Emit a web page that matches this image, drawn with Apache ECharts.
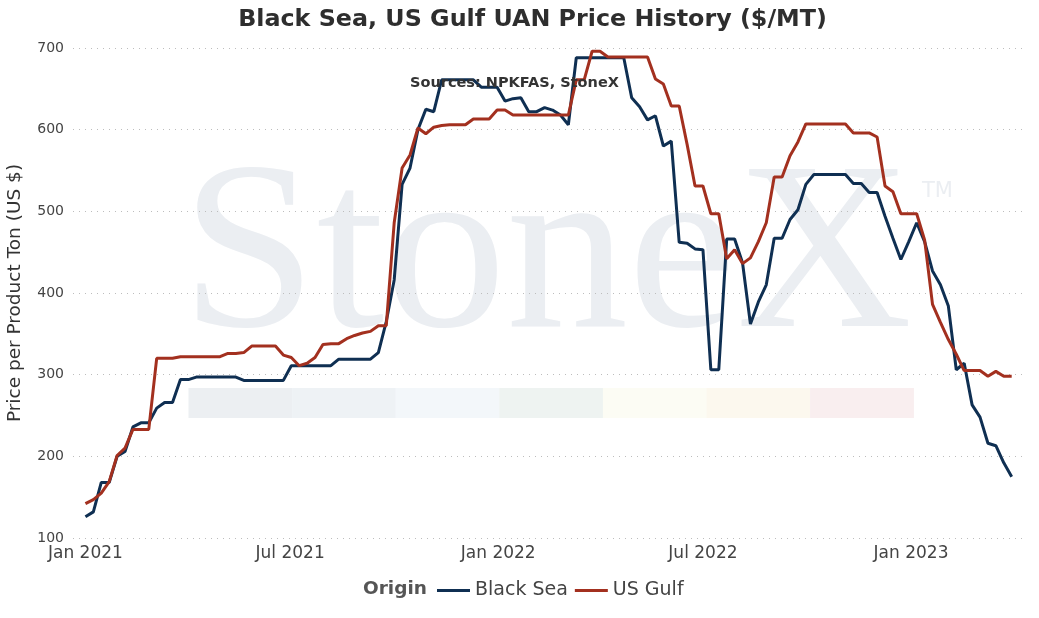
<!DOCTYPE html>
<html>
<head>
<meta charset="utf-8">
<title>Black Sea, US Gulf UAN Price History</title>
<script src="https://cdn.jsdelivr.net/npm/echarts@6/dist/echarts.min.js"></script>
<style>
  html, body { margin: 0; padding: 0; background: #fff; }
  #main { width: 1039px; height: 618px; }
</style>
</head>
<body>
<div id="main"></div>
<script>
// weekly observation dates
const weeks = [
  "2021-01-01","2021-01-08","2021-01-15","2021-01-22","2021-01-29","2021-02-05","2021-02-12","2021-02-19","2021-02-26",
  "2021-03-05","2021-03-12","2021-03-19","2021-03-26","2021-04-02","2021-04-09","2021-04-16","2021-04-23","2021-04-30",
  "2021-05-07","2021-05-14","2021-05-21","2021-05-28","2021-06-04","2021-06-11","2021-06-18","2021-06-25",
  "2021-07-02","2021-07-09","2021-07-16","2021-07-23","2021-07-30","2021-08-06","2021-08-13","2021-08-20","2021-08-27",
  "2021-09-03","2021-09-10","2021-09-17","2021-09-24","2021-10-01","2021-10-08","2021-10-15","2021-10-22","2021-10-29",
  "2021-11-05","2021-11-12","2021-11-19","2021-11-26","2021-12-03","2021-12-10","2021-12-17","2021-12-24","2021-12-31",
  "2022-01-07","2022-01-14","2022-01-21","2022-01-28","2022-02-04","2022-02-11","2022-02-18","2022-02-25",
  "2022-03-04","2022-03-11","2022-03-18","2022-03-25","2022-04-01","2022-04-08","2022-04-15","2022-04-22","2022-04-29",
  "2022-05-06","2022-05-13","2022-05-20","2022-05-27","2022-06-03","2022-06-10","2022-06-17","2022-06-24",
  "2022-07-01","2022-07-08","2022-07-15","2022-07-22","2022-07-29","2022-08-05","2022-08-12","2022-08-19","2022-08-26",
  "2022-09-02","2022-09-09","2022-09-16","2022-09-23","2022-09-30","2022-10-07","2022-10-14","2022-10-21","2022-10-28",
  "2022-11-04","2022-11-11","2022-11-18","2022-11-25","2022-12-02","2022-12-09","2022-12-16","2022-12-23","2022-12-30",
  "2023-01-06","2023-01-13","2023-01-20","2023-01-27","2023-02-03","2023-02-10","2023-02-17","2023-02-24",
  "2023-03-03","2023-03-10","2023-03-17","2023-03-24","2023-03-31"
];

const blackSea = [
  126,132,168,168,200,206,236,241,241,259,266,266,294,294,297,297,297,297,297,297,
  293,293,293,293,293,293,311,311,311,311,311,311,319,319,319,319,319,327,365,416,
  533,553,600,625,622,661,661,661,661,661,652,652,652,635,638,639,622,622,627,624,
  618,606,688,688,688,688,688,688,688,639,628,612,617,580,586,462,461,454,453,306,
  306,466,466,437,362,389,410,467,467,490,502,533,545,545,545,545,545,534,534,523,
  523,494,467,441,463,486,463,427,410,384,306,314,263,248,216,213,192,175
];

const usGulf = [
  142,147,155,169,201,210,233,233,233,320,320,320,322,322,322,322,322,322,326,326,
  327,335,335,335,335,324,321,311,314,321,337,338,338,344,348,351,353,360,360,486,
  553,569,602,595,603,605,606,606,606,613,613,613,624,624,618,618,618,618,618,618,
  618,618,661,661,696,696,689,689,689,689,689,689,662,656,629,629,582,531,531,497,
  497,442,453,436,443,463,486,542,542,568,585,607,607,607,607,607,607,596,596,596,
  591,531,524,497,497,497,465,386,364,343,325,305,305,305,298,304,298,298
];

// x labels only on these months (Jan, Jul)
const labelMonths = [0, 6];
const monthNames = ["Jan","Feb","Mar","Apr","May","Jun","Jul","Aug","Sep","Oct","Nov","Dec"];
const bandColors = ["#eceff2","#eef2f5","#f3f7fa","#eef3f1","#fcfcf4","#fcf8ee","#f9eeef"];

const FONT = "DejaVu Sans";
const DAY = 86400000;

function t(s) {
  const p = s.split("-").map(Number);
  return new Date(p[0], p[1] - 1, p[2]).getTime();
}

const chart = echarts.init(document.getElementById("main"));

const band = bandColors.map(function (c, i) {
  return {
    type: "rect",
    x: 188.5 + i * 103.6,
    y: 388,
    shape: { width: 103.8, height: 30 },
    style: { fill: c },
    silent: true,
    z: -1
  };
});

const option = {
  animation: false,
  backgroundColor: "#ffffff",
  title: {
    text: "Black Sea, US Gulf UAN Price History ($/MT)",
    left: 527.5,
    textAlign: "center",
    top: 3,
    textStyle: { fontFamily: FONT, fontSize: 23.8, fontWeight: "bold", color: "#2e2e2e" }
  },
  graphic: [
    {
      type: "text",
      x: 181,
      y: 263,
      scaleX: 1.02,
      silent: true,
      z: -1,
      style: {
        text: "StoneX",
        font: "239px 'Liberation Serif'",
        fill: "#ebeef2",
        verticalAlign: "middle"
      }
    },
    {
      type: "text",
      x: 922,
      y: 192,
      silent: true,
      z: -1,
      style: {
        text: "TM",
        font: "21px '" + FONT + "'",
        fill: "#ebeef2",
        verticalAlign: "middle"
      }
    }
  ].concat(band).concat([
    {
      type: "text",
      x: 410,
      y: 83,
      z: 10,
      silent: true,
      style: {
        text: "Sources: NPKFAS, StoneX",
        font: "bold 14.5px '" + FONT + "'",
        fill: "#333333",
        verticalAlign: "middle"
      }
    },
    {
      type: "text",
      x: 363,
      y: 589,
      silent: true,
      style: {
        text: "Origin",
        font: "bold 18.5px '" + FONT + "'",
        fill: "#555555",
        verticalAlign: "middle"
      }
    }
  ]),
  legend: {
    data: ["Black Sea", "US Gulf"],
    left: 437,
    top: 581,
    padding: 0,
    icon: "rect",
    itemWidth: 33,
    itemHeight: 3,
    itemGap: 7,
    textStyle: { fontFamily: FONT, fontSize: 19, color: "#444444" }
  },
  grid: { left: 73, right: 16, top: 48, bottom: 80, containLabel: false, outerBoundsMode: "none" },
  xAxis: {
    type: "time",
    min: t("2020-12-21"),
    max: t("2023-04-10"),
    minInterval: 28 * DAY,
    maxInterval: 31 * DAY,
    axisLine: { show: false },
    axisTick: { show: false },
    splitLine: { show: false },
    axisLabel: {
      showMinLabel: false,
      showMaxLabel: false,
      hideOverlap: false,
      margin: 7,
      fontFamily: FONT,
      fontSize: 17,
      color: "#444444",
      formatter: function (v) {
        const d = new Date(v);
        if (d.getDate() !== 1 || labelMonths.indexOf(d.getMonth()) < 0) return "";
        return monthNames[d.getMonth()] + " " + d.getFullYear();
      }
    }
  },
  yAxis: {
    type: "value",
    min: 100,
    max: 700,
    interval: 100,
    name: "Price per Product Ton (US $)",
    nameLocation: "middle",
    nameRotate: 90,
    nameGap: 48,
    nameTextStyle: { fontFamily: FONT, fontSize: 18.5, color: "#333333" },
    axisLine: { show: false },
    axisTick: { show: false },
    axisLabel: { margin: 9, fontFamily: FONT, fontSize: 14, color: "#444444" },
    splitLine: { lineStyle: { type: [1, 5], color: "#bdbdbd", width: 1 } }
  },
  series: [
    {
      name: "Black Sea",
      type: "line",
      symbol: "none",
      data: weeks.map(function (w, i) { return [t(w), blackSea[i]]; }),
      lineStyle: { width: 3, color: "#0f2f52" },
      itemStyle: { color: "#0f2f52" },
      z: 3
    },
    {
      name: "US Gulf",
      type: "line",
      symbol: "none",
      data: weeks.map(function (w, i) { return [t(w), usGulf[i]]; }),
      lineStyle: { width: 3, color: "#a3301f" },
      itemStyle: { color: "#a3301f" },
      z: 4
    }
  ]
};

chart.setOption(option);
</script>
</body>
</html>
